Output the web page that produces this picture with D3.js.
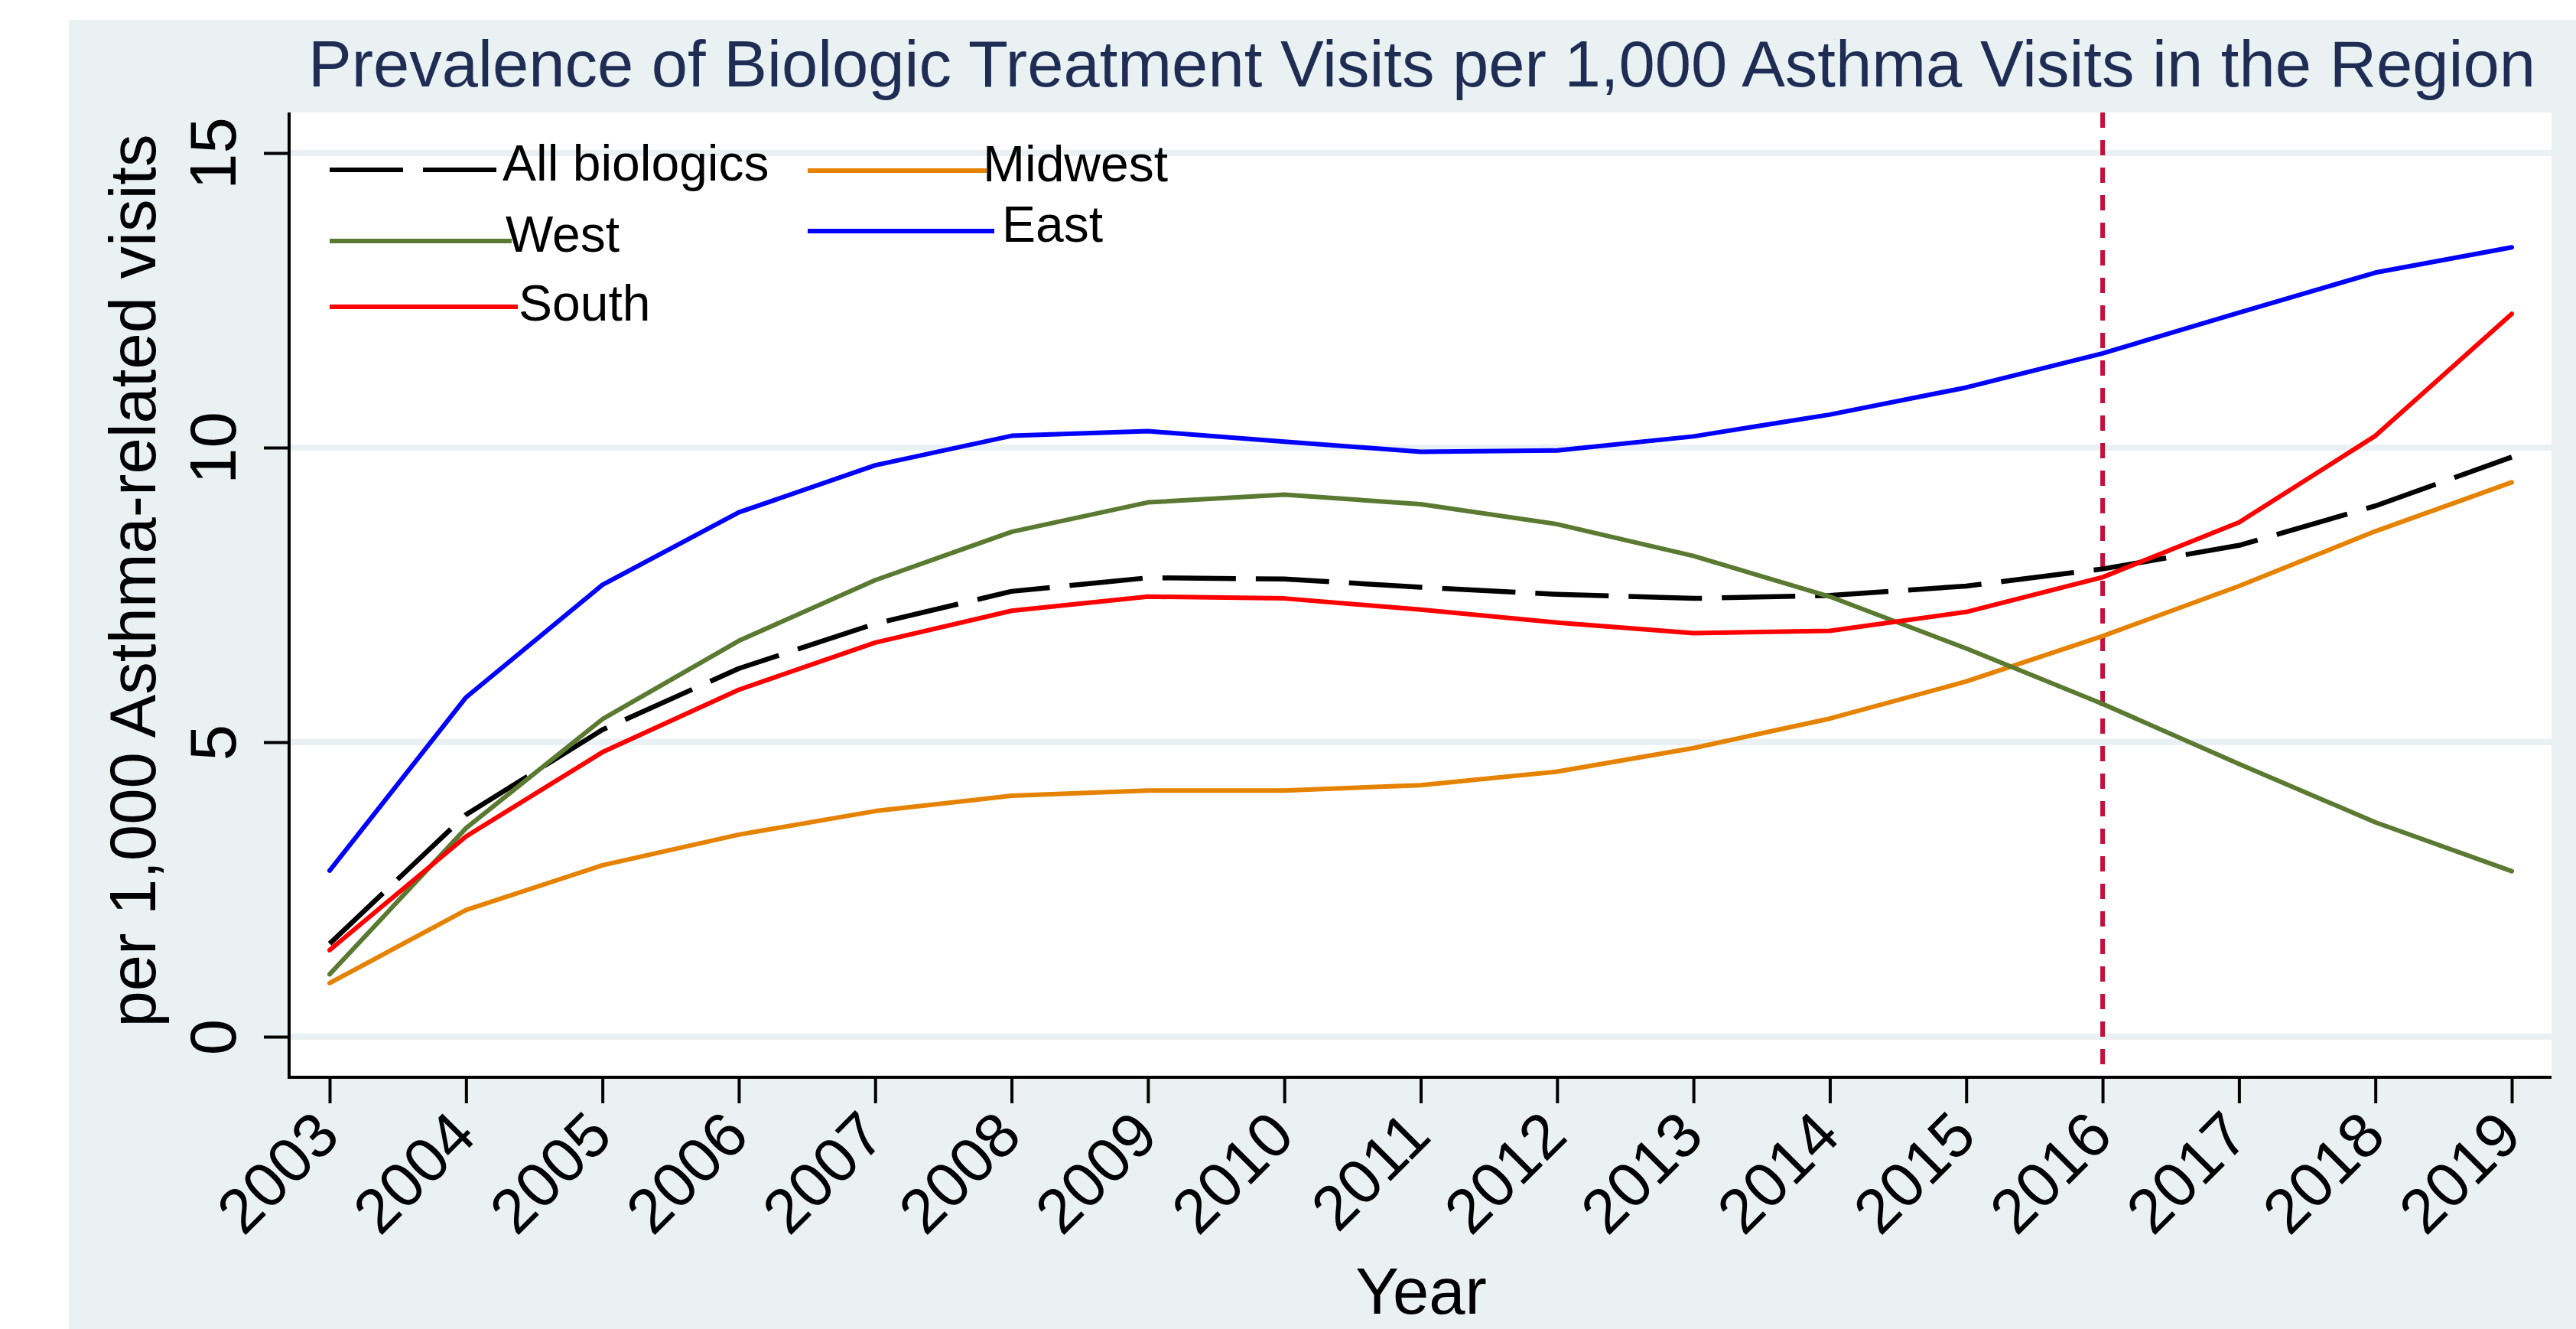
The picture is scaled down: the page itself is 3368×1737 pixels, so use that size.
<!DOCTYPE html>
<html>
<head>
<meta charset="utf-8">
<script src="https://cdn.jsdelivr.net/npm/d3@7/dist/d3.min.js"></script>
<style>
  html, body { margin: 0; padding: 0; background: #ffffff; }
  svg { display: block; }
  text { font-family: "Liberation Sans", Arial, Helvetica, sans-serif; }
</style>
</head>
<body>
<div id="chart"></div>
<script>
// ---- data ----
const years = [2003, 2004, 2005, 2006, 2007, 2008, 2009, 2010, 2011, 2012, 2013, 2014, 2015, 2016, 2017, 2018, 2019];
const allBiologics = [1.58, 3.77, 5.21, 6.25, 7.01, 7.56, 7.79, 7.77, 7.63, 7.51, 7.44, 7.49, 7.65, 7.94, 8.34, 9.01, 9.84];
const midwest      = [0.91, 2.15, 2.91, 3.43, 3.83, 4.09, 4.18, 4.18, 4.27, 4.50, 4.90, 5.40, 6.03, 6.80, 7.65, 8.58, 9.41];
const west         = [1.06, 3.54, 5.39, 6.72, 7.75, 8.57, 9.07, 9.20, 9.04, 8.70, 8.16, 7.47, 6.59, 5.65, 4.63, 3.64, 2.81];
const east         = [2.82, 5.76, 7.67, 8.90, 9.70, 10.20, 10.28, 10.10, 9.93, 9.95, 10.19, 10.56, 11.02, 11.60, 12.29, 12.97, 13.40];
const south        = [1.47, 3.40, 4.83, 5.89, 6.69, 7.23, 7.47, 7.44, 7.25, 7.03, 6.85, 6.89, 7.21, 7.80, 8.73, 10.20, 12.27];
const seriesNames  = ["All biologics", "Midwest", "West", "East", "South"];
const yTicks = [0, 5, 10, 15];
const markerYear = 2016;
const titleText = "Prevalence of Biologic Treatment Visits per 1,000 Asthma Visits in the Region";
const xTitle = "Year";
const yTitle = "per 1,000 Asthma-related visits";

// ---- styling ----
const W = 3368, H = 1737;
const plot = { left: 378, top: 147, right: 3336, bottom: 1408 };
const bgColor = "#e9f1f3";
const style = {
  "All biologics": { color: "#000000", width: 6.5, dash: "96,26" },
  "Midwest": { color: "#e58200", width: 6, dash: null },
  "West":    { color: "#5a7a32", width: 6, dash: null },
  "East":    { color: "#0000ff", width: 6, dash: null },
  "South":   { color: "#ff0000", width: 6, dash: null }
};
// legend placement (line start/end, line y, label x, label baseline)
const legendLayout = {
  "All biologics": { x1: 431, x2: 650, y: 222, tx: 657, ty: 236 },
  "Midwest":       { x1: 1056, x2: 1290, y: 223, tx: 1285, ty: 237 },
  "West":          { x1: 431, x2: 669, y: 315, tx: 661, ty: 329 },
  "East":          { x1: 1056, x2: 1300, y: 302, tx: 1310, ty: 316 },
  "South":         { x1: 431, x2: 677, y: 401, tx: 678, ty: 419 }
};

const valuesByName = {
  "All biologics": allBiologics,
  "Midwest": midwest,
  "West": west,
  "East": east,
  "South": south
};

const svg = d3.select("#chart").append("svg")
  .attr("width", W).attr("height", H)
  .attr("viewBox", `0 0 ${W} ${H}`);

// outer region
svg.append("rect").attr("x", 0).attr("y", 0).attr("width", W).attr("height", H).attr("fill", "#ffffff");
svg.append("rect").attr("x", 90).attr("y", 26).attr("width", W - 90).attr("height", H - 26).attr("fill", bgColor);

// plot region
svg.append("rect")
  .attr("x", plot.left).attr("y", plot.top)
  .attr("width", plot.right - plot.left).attr("height", plot.bottom - plot.top)
  .attr("fill", "#ffffff");

const x = d3.scaleLinear().domain([2003, 2019]).range([431, 3284]);
const y = d3.scaleLinear().domain([0, 15]).range([1355, 200]);

// horizontal grid
svg.append("g").selectAll("line").data(yTicks).join("line")
  .attr("x1", plot.left).attr("x2", plot.right)
  .attr("y1", d => y(d)).attr("y2", d => y(d))
  .attr("stroke", "#eaf1f4").attr("stroke-width", 8);

// reference line
svg.append("line")
  .attr("x1", x(markerYear)).attr("x2", x(markerYear))
  .attr("y1", plot.top).attr("y2", plot.bottom)
  .attr("stroke", "#c4103c").attr("stroke-width", 6)
  .attr("stroke-dasharray", "20,16");

// series lines
const line = d3.line().x((d, i) => x(years[i])).y(d => y(d));
const gLines = svg.append("g");
seriesNames.forEach(name => {
  const s = style[name];
  gLines.append("path")
    .datum(valuesByName[name])
    .attr("d", line)
    .attr("fill", "none")
    .attr("stroke", s.color)
    .attr("stroke-width", s.width)
    .attr("stroke-linejoin", "round")
    .attr("stroke-linecap", s.dash ? "butt" : "round")
    .attr("stroke-dasharray", s.dash);
});

// axes
const xAxis = d3.axisBottom(x).tickValues(years).tickSize(34).tickPadding(0).tickFormat(d3.format("d"));
const gx = svg.append("g").attr("transform", `translate(0,${plot.bottom})`).call(xAxis);
gx.select(".domain").remove();
gx.selectAll(".tick line").attr("stroke", "#000").attr("stroke-width", 4);
gx.selectAll(".tick text")
  .attr("font-size", 82)
  .attr("fill", "#000")
  .attr("text-anchor", "end")
  .attr("dy", null).attr("y", 0).attr("x", 0)
  .attr("transform", "translate(16,80) rotate(-45)");

const yAxis = d3.axisLeft(y).tickValues(yTicks).tickSize(33).tickPadding(0).tickFormat(d3.format("d"));
const gy = svg.append("g").attr("transform", `translate(${plot.left},0)`).call(yAxis);
gy.select(".domain").remove();
gy.selectAll(".tick line").attr("stroke", "#000").attr("stroke-width", 4);
gy.selectAll(".tick text")
  .attr("font-size", 85)
  .attr("fill", "#000")
  .attr("text-anchor", "middle")
  .attr("dy", null).attr("x", 0).attr("y", -70)
  .attr("transform", "rotate(-90)");

// axis lines
svg.append("line").attr("x1", plot.left).attr("x2", plot.left)
  .attr("y1", plot.top).attr("y2", plot.bottom + 2)
  .attr("stroke", "#000").attr("stroke-width", 4);
svg.append("line").attr("x1", plot.left - 2).attr("x2", plot.right)
  .attr("y1", plot.bottom).attr("y2", plot.bottom)
  .attr("stroke", "#000").attr("stroke-width", 4);

// titles
svg.append("text")
  .attr("x", 1859).attr("y", 113)
  .attr("text-anchor", "middle").attr("font-size", 85)
  .attr("fill", "#1f2d54").text(titleText);

svg.append("text")
  .attr("x", 1858).attr("y", 1717)
  .attr("text-anchor", "middle").attr("font-size", 85)
  .attr("fill", "#000").text(xTitle);

svg.append("text")
  .attr("transform", "translate(203,759) rotate(-90)")
  .attr("text-anchor", "middle").attr("font-size", 85)
  .attr("fill", "#000").text(yTitle);

// legend
const gLeg = svg.append("g");
seriesNames.forEach(name => {
  const s = style[name], L = legendLayout[name];
  gLeg.append("line")
    .attr("x1", L.x1).attr("x2", L.x2).attr("y1", L.y).attr("y2", L.y)
    .attr("stroke", s.color).attr("stroke-width", 6)
    .attr("stroke-dasharray", s.dash);
  gLeg.append("text")
    .attr("x", L.tx).attr("y", L.ty)
    .attr("font-size", 66).attr("fill", "#000")
    .text(name);
});
</script>
</body>
</html>
